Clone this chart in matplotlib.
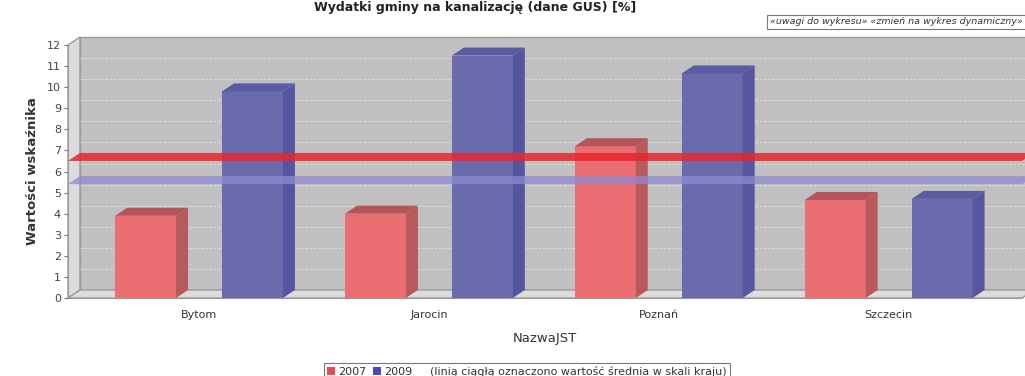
import matplotlib
matplotlib.use("Agg")
import matplotlib.pyplot as plt
from matplotlib.patches import Polygon, Rectangle, Patch
from matplotlib.lines import Line2D

categories = ["Bytom", "Jarocin", "Poznań", "Szczecin"]
years = ["2007", "2009"]
values_2007 = [3.9, 4.0, 7.2, 4.65]
values_2009 = [9.8, 11.5, 10.65, 4.7]
mean_2007 = 6.5
mean_2009 = 5.4
y_ticks = list(range(0, 13))

W, H = 1025, 376
fig = plt.figure(figsize=(W / 100, H / 100), dpi=100)
ax = fig.add_axes([68 / W, (H - 298) / H, 954 / W, 253 / H])

x_lo, x_hi = -0.57, 3.58
y_max = 12
ax.set_xlim(x_lo, x_hi)
ax.set_ylim(0, y_max)

# 3D depth offset (12 px right, 8 px up) in data units
dx = 12 * (x_hi - x_lo) / 954
dy = 8 * y_max / 253

edge = "#9a9a9a"
# walls
back = Polygon([(x_lo + dx, dy), (x_hi + dx, dy), (x_hi + dx, y_max + dy), (x_lo + dx, y_max + dy)],
               closed=True, fc="#c0c0c0", ec=edge, lw=1, clip_on=False, zorder=0)
left = Polygon([(x_lo, 0), (x_lo + dx, dy), (x_lo + dx, y_max + dy), (x_lo, y_max)],
               closed=True, fc="#dcdcdc", ec=edge, lw=1, clip_on=False, zorder=0.5)
floor = Polygon([(x_lo, 0), (x_hi, 0), (x_hi + dx, dy), (x_lo + dx, dy)],
                closed=True, fc="#dcdcdc", ec=edge, lw=1, clip_on=False, zorder=0.5)
for p in (back, left, floor):
    ax.add_patch(p)

for v in y_ticks[1:-1]:
    ax.plot([x_lo + dx, x_hi + dx], [v + dy, v + dy], color="white", lw=0.6,
            ls=(0, (3, 2)), alpha=0.55, zorder=0.6, clip_on=False)

colors = {
    "2007": ("#eb6e72", "#b85a5c", "#b55557"),
    "2009": ("#6a6bad", "#5556a0", "#5a5ba3"),
}
width = 0.265
offsets = {"2007": -0.365, "2009": 0.10}

for year, vals in zip(years, [values_2007, values_2009]):
    front, side, top = colors[year]
    for i, v in enumerate(vals):
        x0 = i + offsets[year]
        ax.add_patch(Rectangle((x0, 0), width, v, fc=front, ec="none", zorder=2))
        ax.add_patch(Polygon([(x0 + width, 0), (x0 + width + dx, dy), (x0 + width + dx, v + dy), (x0 + width, v)],
                             closed=True, fc=side, ec="none", zorder=2))
        ax.add_patch(Polygon([(x0, v), (x0 + dx, v + dy), (x0 + width + dx, v + dy), (x0 + width, v)],
                             closed=True, fc=top, ec="none", zorder=2))

# average lines as flat bands
for m, c, a in [(mean_2009, "#8f8ad2", 0.75), (mean_2007, "#e8262c", 0.85)]:
    ax.add_patch(Polygon([(x_lo, m), (x_lo + dx, m + dy), (x_hi + dx, m + dy), (x_hi, m)],
                         closed=True, fc=c, ec="none", alpha=a, zorder=3, clip_on=False))

for s in ["top", "right"]:
    ax.spines[s].set_visible(False)
ax.spines["left"].set_color(edge)
ax.spines["bottom"].set_color(edge)
ax.spines["left"].set_zorder(1)
ax.spines["bottom"].set_zorder(1)
ax.set_facecolor("none")

ax.set_yticks(y_ticks)
ax.tick_params(axis="y", length=3, width=0.8, color="#777777", labelsize=8, labelcolor="#444444", pad=2)
ax.set_xticks(range(len(categories)))
ax.set_xticklabels(categories)
ax.tick_params(axis="x", length=0, labelsize=8, labelcolor="#333333", pad=9)

ax.set_ylabel("Wartości wskaźnika", fontsize=9.5, fontweight="bold", color="#333333", labelpad=6)
ax.set_xlabel("NazwaJST", fontsize=9.5, color="#333333", labelpad=8)

fig.text(475 / W, 1 - 1 / H, "Wydatki gminy na kanalizację (dane GUS) [%]",
         ha="center", va="top", fontsize=9, fontweight="bold", color="#222222")

fig.text(770 / W, 1 - 22 / H, "«uwagi do wykresu» «zmień na wykres dynamiczny»",
         ha="left", va="center", fontsize=6.8, style="italic", color="#333333",
         bbox=dict(boxstyle="square,pad=0.3", fc="white", ec="#777777", lw=0.8))

handles = [Patch(fc="#e84a50", ec="none"), Patch(fc="#4a4ab0", ec="none"), Line2D([], [], alpha=0)]
labels = ["2007", "2009", "(linią ciągłą oznaczono wartość średnia w skali kraju)"]
leg = fig.legend(handles, labels, loc="lower center", bbox_to_anchor=(527 / W, -0.012), ncol=3,
                 fontsize=8, frameon=True, fancybox=False, edgecolor="#555555",
                 handlelength=0.7, handleheight=0.7, handletextpad=0.3, columnspacing=0.6,
                 borderpad=0.3, borderaxespad=0)
leg.get_frame().set_linewidth(0.8)
for t in leg.get_texts():
    t.set_color("#333333")

fig.savefig("out.png", dpi=100)
